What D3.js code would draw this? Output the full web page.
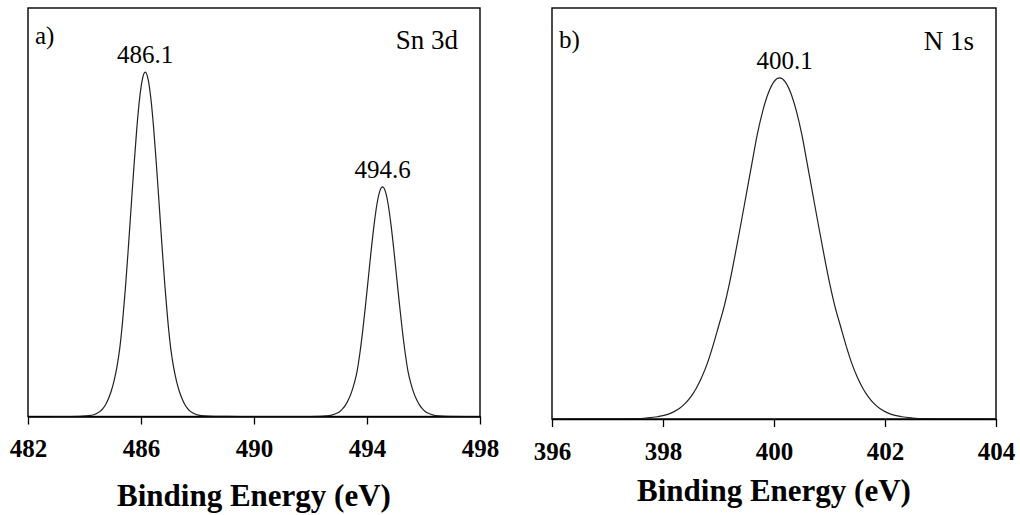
<!DOCTYPE html>
<html><head><meta charset="utf-8">
<script src="https://cdnjs.cloudflare.com/ajax/libs/d3/7.8.5/d3.min.js"></script>
<style>
html,body{margin:0;padding:0;background:#fff;}
svg{display:block;}
</style></head>
<body>
<svg id="chart" width="1020" height="515"></svg>
<script>
// ---- Data ----
const sn3dEnergy = [482.9,483.5,484.15,484.35,484.55,484.65,484.75,484.85,484.95,485.05,485.15,485.25,485.35,485.45,485.55,485.65,485.75,485.85,485.95,486.05,486.15,486.25,486.35,486.45,486.55,486.65,486.75,486.85,486.95,487.05,487.15,487.25,487.35,487.45,487.55,487.65,487.75,487.95,488.15,488.45,488.75,489.5,491,492,492.25,492.55,492.75,492.95,493.05,493.15,493.25,493.35,493.45,493.55,493.65,493.75,493.85,493.95,494.05,494.15,494.25,494.35,494.45,494.55,494.65,494.75,494.85,494.95,495.05,495.15,495.25,495.35,495.45,495.55,495.65,495.75,495.85,495.95,496.05,496.15,496.35,496.55,496.85,497.5,498];
const sn3dIntensity = [0,0,0.21,0.5,1.26,1.94,2.95,4.4,6.3,8.85,12.2,16.8,23.4,31.6,41.1,51.2,61.2,70.4,77.8,82.6,84.3,82.6,77.8,70.4,61.2,51.2,41.1,31.6,23.4,16.8,12.2,8.85,6.3,4.4,2.95,1.94,1.26,0.5,0.21,0.07,0.02,0,0,0,0.04,0.14,0.34,0.84,1.3,1.97,2.9,4.2,5.9,8.15,11.1,15.6,21.1,27.4,34.1,40.8,46.9,51.9,55.1,56.2,55.1,51.9,46.9,40.8,34.1,27.4,21.1,15.6,11.1,8.15,5.9,4.2,2.9,1.97,1.3,0.84,0.34,0.14,0.04,0,0];

const n1sEnergy = [396,397,397.5,397.7,397.9,398.1,398.2,398.3,398.4,398.5,398.6,398.7,398.8,398.9,399.0,399.1,399.2,399.3,399.4,399.5,399.6,399.7,399.8,399.9,400.0,400.1,400.2,400.3,400.4,400.5,400.6,400.7,400.8,400.9,401.0,401.1,401.2,401.3,401.4,401.5,401.6,401.7,401.8,401.9,402.0,402.1,402.3,402.5,402.7,403.2,404];
const n1sIntensity = [0,0.01,0.1,0.25,0.55,1.2,1.8,2.6,3.8,5.4,7.5,10.2,13.6,17.8,22.5,27.3,33.2,40.0,47.2,54.6,62.0,69.3,75.1,79.4,82.1,83.0,82.1,79.4,75.1,69.3,62.0,54.6,47.2,40.0,33.2,27.3,22.5,17.8,13.6,10.2,7.5,5.4,3.8,2.6,1.8,1.2,0.55,0.25,0.1,0.01,0];

const sn3dTicks = [482,486,490,494,498];
const n1sTicks = [396,398,400,402,404];
const sn3dPeakLabels = [486.1, 494.6];
const sn3dPeakPos = [486.15, 494.55];
const sn3dPeakHeights = [84.3, 56.2];
const n1sPeakLabels = [400.1];
const n1sPeakPos = [400.1];
const n1sPeakHeights = [83.0];
const panelLetters = ["a)", "b)"];
const panelNames = ["Sn 3d", "N 1s"];
const xTitle = "Binding Energy (eV)";

// ---- Drawing ----
const FONT = '"Times New Roman", "Liberation Serif", Tinos, "Nimbus Roman", "DejaVu Serif", serif';
const svg = d3.select("#chart");

function txt(sel){ return sel.attr("font-family", FONT).attr("fill","#000"); }

function panel(cfg){
  const g = svg.append("g");
  const x = d3.scaleLinear().domain(cfg.domain).range([cfg.left, cfg.right]);
  const y = d3.scaleLinear().domain([0,100]).range([cfg.bottom, cfg.top]);

  g.append("rect").attr("x", cfg.left).attr("y", cfg.top)
    .attr("width", cfg.right-cfg.left).attr("height", cfg.bottom-cfg.top)
    .attr("fill","none").attr("stroke","#000").attr("stroke-width",1.4);

  const pts = cfg.ex.map((e,i)=>[e, cfg.inten[i]]);
  g.append("path").datum(pts)
    .attr("fill","none").attr("stroke","#222").attr("stroke-width",1.2)
    .attr("d", d3.line().x(d=>x(d[0])).y(d=>y(d[1])).curve(d3.curveMonotoneX));

  const ax = g.append("g").attr("transform",`translate(0,${cfg.bottom})`)
    .call(d3.axisBottom(x).tickValues(cfg.ticks).tickSize(8).tickSizeOuter(0).tickFormat(d3.format("d")));
  ax.attr("font-family", FONT).attr("font-size", 25).attr("font-weight","bold");
  ax.select(".domain").attr("stroke","#000").attr("stroke-width",1.4);
  ax.selectAll(".tick line").attr("stroke","#000").attr("stroke-width",1.3);
  ax.selectAll(".tick text").attr("y", cfg.tickBase-cfg.bottom).attr("dy",null).attr("fill","#000");

  txt(g.append("text")).attr("x",(cfg.left+cfg.right)/2).attr("y",cfg.titleBase)
    .attr("text-anchor","middle").attr("font-weight","bold").attr("font-size",31)
    .text(xTitle);

  txt(g.append("text")).attr("x",cfg.left+7).attr("y",cfg.letterBase)
    .attr("font-size",25).text(cfg.letter);
  txt(g.append("text")).attr("x",cfg.right-22).attr("y",cfg.nameBase)
    .attr("text-anchor","end").attr("font-size",27).text(cfg.name);

  cfg.labels.forEach((lab,i)=>{
    txt(g.append("text")).attr("x", x(cfg.pos[i]) + cfg.labelDx)
      .attr("y", y(cfg.heights[i]) - 9)
      .attr("text-anchor","middle").attr("font-size",25)
      .text(d3.format(".1f")(lab));
  });
}

panel({domain:[482,498], left:28, right:480, top:8, bottom:416.5,
  ex:sn3dEnergy, inten:sn3dIntensity, ticks:sn3dTicks,
  tickBase:457, titleBase:506, letter:panelLetters[0], name:panelNames[0],
  letterBase:44, nameBase:49, labels:sn3dPeakLabels, pos:sn3dPeakPos, heights:sn3dPeakHeights, labelDx:0});

panel({domain:[396,404], left:552, right:996, top:8, bottom:419,
  ex:n1sEnergy, inten:n1sIntensity, ticks:n1sTicks,
  tickBase:460, titleBase:501, letter:panelLetters[1], name:panelNames[1],
  letterBase:48, nameBase:50, labels:n1sPeakLabels, pos:n1sPeakPos, heights:n1sPeakHeights, labelDx:5});
</script>
</body></html>
